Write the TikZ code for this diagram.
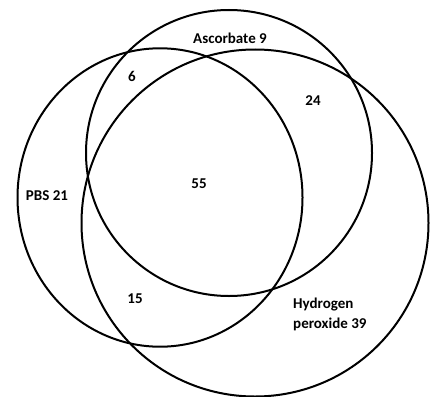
\documentclass[tikz,border=0pt]{standalone}
\usepackage{fontspec}
\setmainfont{Carlito}
\begin{document}
\begin{tikzpicture}[x=1pt,y=-1pt,
  ring/.style={draw=black,line width=2pt},
  lbl/.style={font=\fontsize{15}{20}\selectfont\bfseries,inner sep=0pt}]
\useasboundingbox (0,0) rectangle (430,396);
% sets
\draw[ring] (160,197.5) ellipse [x radius=142.5, y radius=149.2];
\draw[ring] (229,153) circle [radius=143];
\draw[ring] (255,223) circle [radius=173.5];
% labels
\node[lbl] (asc) at (230,38) {Ascorbate 9};
\node[lbl] (pbs) at (47,196) {PBS 21};
\node[lbl,align=left,anchor=west] (hp) at (293,314) {Hydrogen\\peroxide 39};
\node[lbl] (n6) at (132,76) {6};
\node[lbl] (n24) at (313,101) {24};
\node[lbl] (n55) at (199,184) {55};
\node[lbl] (n15) at (135,299) {15};
\end{tikzpicture}
\end{document}
